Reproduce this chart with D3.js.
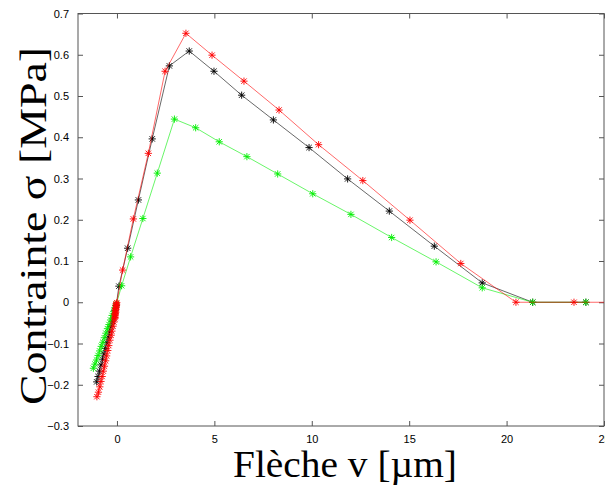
<!DOCTYPE html>
<html>
<head>
<meta charset="utf-8">
<script src="https://cdn.jsdelivr.net/npm/d3@7/dist/d3.min.js"></script>
<style>
  html, body { margin: 0; padding: 0; background: #fff; }
  svg { display: block; }
</style>
</head>
<body>
<script>
// ---- data ----
const xTicks = [0, 5, 10, 15, 20, 25];
const yTicks = [0.7, 0.6, 0.5, 0.4, 0.3, 0.2, 0.1, 0, -0.1, -0.2, -0.3];
const xLabel = "Flèche v [µm]";
const yLabel = "Contrainte σ [MPa]";

const blackX = [-1.04, -0.97, -0.9, -0.82, -0.74, -0.67, -0.6, -0.52, -0.45, -0.38, -0.31, -0.24, -0.17, -0.1, -0.04,
  0.1, 0.55, 1.1, 1.81, 2.69, 3.71, 4.98, 6.4, 8.03, 9.86, 11.84, 13.98, 16.29, 18.75, 21.34, 24.07];
const blackY = [-0.193, -0.18, -0.167, -0.152, -0.138, -0.125, -0.112, -0.098, -0.085, -0.072, -0.059, -0.046, -0.033, -0.02, -0.008,
  0.039, 0.131, 0.248, 0.396, 0.573, 0.609, 0.56, 0.502, 0.442, 0.375, 0.299, 0.221, 0.136, 0.047, 0, 0];

const greenX = [-1.21, -1.13, -1.05, -0.97, -0.89, -0.81, -0.73, -0.65, -0.57, -0.49, -0.41, -0.33, -0.25, -0.17, -0.1, -0.03,
  0.24, 0.7, 1.33, 2.07, 2.95, 4.04, 5.25, 6.67, 8.25, 10.05, 12.01, 14.1, 16.38, 18.75, 21.34, 24.07];
const greenY = [-0.16, -0.15, -0.14, -0.129, -0.118, -0.107, -0.097, -0.086, -0.075, -0.064, -0.054, -0.043, -0.032, -0.022, -0.013, -0.004,
  0.04, 0.11, 0.203, 0.313, 0.444, 0.423, 0.389, 0.353, 0.311, 0.263, 0.213, 0.157, 0.098, 0.035, 0, 0];

const redX = [-1.03, -0.95, -0.88, -0.82, -0.76, -0.7, -0.64, -0.58, -0.53, -0.47, -0.42, -0.36, -0.3, -0.26, -0.2, -0.16, -0.12,
  -0.1, -0.08, -0.11, -0.09, -0.06, -0.08, -0.05, -0.07, -0.03, -0.05, -0.02, -0.04, -0.01,
  0.29, 0.84, 1.61, 2.47, 3.54, 4.88, 6.52, 8.32, 10.35, 12.62, 15.04, 17.65, 20.48, 23.46, 26.4];
const redY = [-0.229, -0.218, -0.205, -0.192, -0.18, -0.167, -0.155, -0.142, -0.13, -0.117, -0.105, -0.092, -0.08, -0.07, -0.058, -0.048, -0.04,
  -0.037, -0.033, -0.03, -0.027, -0.024, -0.021, -0.018, -0.015, -0.012, -0.009, -0.006, -0.004, -0.001,
  0.078, 0.202, 0.361, 0.56, 0.652, 0.599, 0.536, 0.466, 0.382, 0.295, 0.199, 0.094, 0, 0, 0];

const seriesColors = ["#000000", "#00ee00", "#ff0000"];

// ---- layout ----
const W = 605, H = 486;
const L = 78, R = 604, T = 13.5, B = 426;

const svg = d3.select("body").append("svg").attr("width", W).attr("height", H);

const x = d3.scaleLinear().domain([-2, 25]).range([L, R]);
const y = d3.scaleLinear().domain([-0.3, 0.7]).range([B, T]);

const axisColor = "#555";
const tickFont = "Liberation Sans, Arial, Helvetica, sans-serif";

// box
svg.append("rect").attr("x", L).attr("y", T).attr("width", R - L).attr("height", B - T)
  .attr("fill", "none").attr("stroke", axisColor).attr("stroke-width", 1);

// axes (ticks inward)
const tl = 5;
const gx = svg.append("g").attr("transform", `translate(0,${B})`)
  .call(d3.axisBottom(x).tickValues(xTicks).tickSize(-tl).tickPadding(tl + 4).tickFormat(d3.format("d")));
const gxTop = svg.append("g").attr("transform", `translate(0,${T})`)
  .call(d3.axisTop(x).tickValues(xTicks).tickSize(-tl).tickFormat(""));
const gy = svg.append("g").attr("transform", `translate(${L},0)`)
  .call(d3.axisLeft(y).tickValues(yTicks).tickSize(-tl).tickPadding(tl + 4).tickFormat(d => d === 0 ? "0" : d3.format(".1f")(d)));
const gyR = svg.append("g").attr("transform", `translate(${R},0)`)
  .call(d3.axisRight(y).tickValues(yTicks).tickSize(-tl).tickFormat(""));

[gx, gxTop, gy, gyR].forEach(g => {
  g.select(".domain").remove();
  g.selectAll(".tick line").attr("stroke", axisColor);
  g.selectAll(".tick text").attr("fill", "#000").style("font-family", tickFont).style("font-size", "11px");
});
gx.selectAll(".tick text").attr("dy", "0.71em");

// clip
svg.append("clipPath").attr("id", "clip").append("rect")
  .attr("x", L).attr("y", T).attr("width", R - L).attr("height", B - T);

const plot = svg.append("g").attr("clip-path", "url(#clip)");

const allSeries = [
  { xs: blackX, ys: blackY, color: seriesColors[0] },
  { xs: greenX, ys: greenY, color: seriesColors[1] },
  { xs: redX, ys: redY, color: seriesColors[2] }
];

const line = d3.line().x(d => x(d[0])).y(d => y(d[1]));
const s = 3.6, d2 = s * 0.75;
const starPath = `M${-s},0L${s},0M0,${-s}L0,${s}M${-d2},${-d2}L${d2},${d2}M${-d2},${d2}L${d2},${-d2}`;

allSeries.forEach(sr => {
  const pts = sr.xs.map((v, i) => [v, sr.ys[i]]);
  const g = plot.append("g");
  g.append("path").attr("d", line(pts)).attr("fill", "none")
    .attr("stroke", sr.color).attr("stroke-width", 0.7).attr("stroke-opacity", 0.85);
  g.selectAll("path.m").data(pts).enter().append("path").attr("class", "m")
    .attr("transform", d => `translate(${x(d[0])},${y(d[1])})`)
    .attr("d", starPath).attr("fill", "none").attr("stroke", sr.color).attr("stroke-width", 0.9);
});

// axis titles
const serif = "Liberation Serif, Times New Roman, Times, serif";
svg.append("text").attr("x", (233 + 457) / 2).attr("y", 477)
  .attr("text-anchor", "middle").style("font-family", serif).style("font-size", "37px")
  .attr("textLength", 224).attr("lengthAdjust", "spacingAndGlyphs")
  .attr("fill", "#000").text(xLabel);

svg.append("text").attr("transform", `translate(46,${(47 + 405) / 2}) rotate(-90)`)
  .attr("text-anchor", "middle").style("font-family", serif).style("font-size", "37px")
  .attr("textLength", 358).attr("lengthAdjust", "spacingAndGlyphs")
  .attr("fill", "#000").text(yLabel);
</script>
</body>
</html>
